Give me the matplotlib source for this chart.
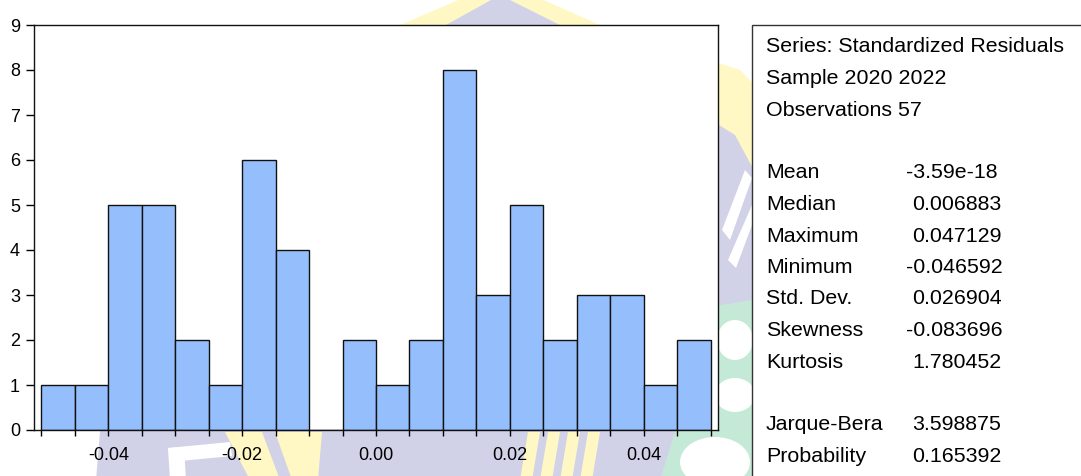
import numpy as np
import matplotlib
matplotlib.use("Agg")
import matplotlib.pyplot as plt
from matplotlib.patches import Polygon, Rectangle, Ellipse

plt.rcParams['font.family'] = ['Liberation Sans', 'DejaVu Sans']
plt.rcParams['axes.unicode_minus'] = False

# Histogram of residuals: bin edges and counts
bin_start = -0.05
bin_width = 0.005
counts = [1, 1, 5, 5, 2, 1, 6, 4, 0, 2, 1, 2, 8, 3, 5, 2, 3, 3, 1, 2]
x_ticks = [-0.04, -0.02, 0.00, 0.02, 0.04]
y_ticks = [0, 1, 2, 3, 4, 5, 6, 7, 8, 9]

# Descriptive statistics panel
header_lines = ["Series: Standardized Residuals", "Sample 2020 2022", "Observations 57"]
stat_names = ["Mean", "Median", "Maximum", "Minimum", "Std. Dev.", "Skewness", "Kurtosis"]
stat_values = ["-3.59e-18", "0.006883", "0.047129", "-0.046592", "0.026904", "-0.083696", "1.780452"]
test_names = ["Jarque-Bera", "Probability"]
test_values = ["3.598875", "0.165392"]

W, H = 1081, 476
fig = plt.figure(figsize=(W / 100, H / 100), dpi=100)
fig.patch.set_facecolor("white")


def px(x, y):
    """Pixel position (origin top-left) to figure fraction."""
    return (x / W, 1 - y / H)


def poly(points, color, z):
    fig.patches.append(Polygon([px(*p) for p in points], closed=True,
                               transform=fig.transFigure, facecolor=color,
                               edgecolor="none", zorder=z))


def blob(cx, cy, w, h, color, z):
    fig.patches.append(Ellipse(px(cx, cy), w / W, h / H, transform=fig.transFigure,
                               facecolor=color, edgecolor="none", zorder=z))


# Faint emblem in the background
yellow = "#FFF8C4"
lavender = "#D1D2E8"
mint = "#C4EAD7"
poly([(470, -5), (532, -5), (600, 25), (740, 70), (770, 100), (770, 200),
      (500, 220), (400, 25)], yellow, 0.1)
poly([(500, -5), (560, 25), (735, 135), (770, 200), (770, 480), (96, 480),
      (100, 432), (300, 100), (446, 25)], lavender, 0.2)
# lower-left rays
poly([(225, 432), (322, 432), (318, 480), (250, 480)], yellow, 0.3)
poly([(262, 432), (275, 432), (292, 480), (280, 480)], lavender, 0.35)
# lower-right rays
for x0 in (528, 548, 568, 588):
    poly([(x0, 432), (x0 + 12, 432), (x0 + 4, 480), (x0 - 8, 480)], yellow, 0.3)
# white letter strokes
poly([(168, 448), (230, 442), (232, 456), (170, 462)], "white", 0.4)
poly([(168, 448), (184, 447), (186, 480), (170, 480)], "white", 0.4)
# green hills with clouds on the right
poly([(675, 432), (700, 380), (716, 306), (752, 300), (752, 480), (660, 480)], mint, 0.3)
blob(715, 462, 70, 50, "white", 0.4)
blob(735, 340, 36, 40, "white", 0.4)
blob(735, 395, 40, 34, "white", 0.4)
poly([(722, 230), (745, 170), (752, 178), (730, 240)], "white", 0.4)
poly([(728, 260), (752, 205), (752, 225), (736, 268)], "white", 0.4)

# Statistics box (extends past the right and bottom edges)
fig.patches.append(Rectangle(px(752, 490), (1100 - 752) / W, (490 - 25) / H,
                             transform=fig.transFigure, facecolor="white",
                             edgecolor="#333333", linewidth=1.0, zorder=1))

# Histogram axes
ax = fig.add_axes([34 / W, 1 - 430 / H, (718 - 34) / W, (430 - 25) / H])
ax.set_zorder(2)
edges = bin_start + bin_width * np.arange(len(counts) + 1)
ax.bar(edges[:-1], counts, width=bin_width, align="edge", color="#95BEFD",
       edgecolor="#111111", linewidth=1.0)
ax.set_xlim(-0.0511, 0.0511)
ax.set_ylim(0, 9)
ax.set_xticks(x_ticks)
ax.set_xticklabels([f"{t:.2f}" for t in x_ticks])
ax.set_xticks(edges, minor=True)
ax.set_yticks(y_ticks)
ax.tick_params(axis="x", which="both", direction="out", length=4, width=1.0,
               pad=8, labelsize=13)
ax.tick_params(axis="y", direction="out", length=6, width=1.0, pad=4, labelsize=13)
for s in ax.spines.values():
    s.set_linewidth(1.0)
    s.set_color("#111111")

# Statistics text
fs = 15.4
x_lab = 766 / W
line_h = 31.5
y0 = 47
for i, t in enumerate(header_lines):
    fig.text(x_lab, 1 - (y0 + i * line_h) / H, t, fontsize=fs, va="center", zorder=3)
for i, (n, v) in enumerate(zip(stat_names, stat_values)):
    y = 1 - (y0 + (4 + i) * line_h) / H
    fig.text(x_lab, y, n, fontsize=fs, va="center", zorder=3)
    xv = 906 if v.startswith("-") else 912
    fig.text(xv / W, y, v, fontsize=fs, va="center", zorder=3)
for i, (n, v) in enumerate(zip(test_names, test_values)):
    y = 1 - (y0 + (12 + i) * line_h) / H
    fig.text(x_lab, y, n, fontsize=fs, va="center", zorder=3)
    fig.text(912 / W, y, v, fontsize=fs, va="center", zorder=3)

fig.savefig("out.png", dpi=100)
